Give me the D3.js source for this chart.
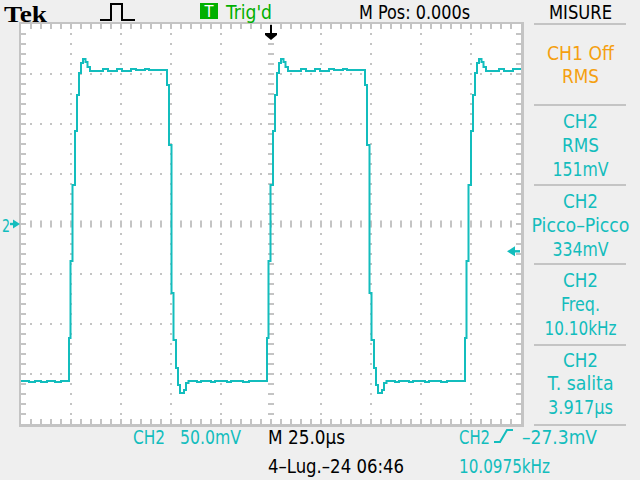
<!DOCTYPE html>
<html><head><meta charset="utf-8">
<script src="https://cdn.jsdelivr.net/npm/d3@7"></script>
<style>html,body{margin:0;padding:0;background:#efefef;}svg{display:block}</style>
</head><body><svg id="c" width="640" height="480"></svg>
<script>
// CH2 trace: time (µs, 0 = trigger) and voltage (mV)
const timeUS = [
  -125,-121,-118,-115,-112,-108,-105,-101,-100.25,-99.25,-98,-97,-96,-95,-94,-92.75,-91.75,-90.5,-84,-81.5,-77,-74.5,-70,-67.5,-63,-61,
  -52,-51,-49.75,-48.75,-47.5,-46.5,-45.5,-43.5,-42.5,-41.25,-37,-35,-30,-28,-22,-20,-14,-11,-6,
  -2,-1.25,-0.25,1,2,3,4,5,6.25,7.25,8.5,15,17.5,22,24.5,29,31.5,36,38,
  47,48,49.25,50.25,51.5,52.5,53.5,55.5,56.5,57.75,62,64,69,71,77,79,85,88,93,
  97,97.75,98.75,100,101,102,103,104,105.25,106.25,107.5,114,116.5,121,125
];
const ch2mV = [
  -157,-158,-157,-158,-157,-158,-157,-114,-37,39,93,129,151,161,165,162,157,153,155,153,155,153,155,154,155,154,
  139,79,-69,-116,-144,-161,-169,-166,-159,-157,-158,-157,-158,-157,-158,-157,-158,-157,-157,
  -114,-37,39,93,129,151,161,165,162,157,153,155,153,155,153,155,154,155,154,
  139,79,-69,-116,-144,-161,-169,-166,-159,-157,-158,-157,-158,-157,-158,-157,-158,-157,-157,
  -114,-37,39,93,129,151,161,165,162,157,153,155,153,155,155
];
// measurement panel
const measTitle = ["CH1 Off","CH2","CH2","CH2","CH2"];
const measName  = ["RMS","RMS","Picco–Picco","Freq.","T. salita"];
const measValue = ["","151mV","334mV","10.10kHz","3.917µs"];
// status texts
const headerTexts = ["Tek","Trig'd","M Pos: 0.000s","MISURE"];
const footerTexts = ["CH2","50.0mV","M 25.0µs","4–Lug.–24 06:46","CH2","–27.3mV","10.0975kHz"];
const trigLevelMV = -27.3;

const CY = "#13bdbd", OR = "#f5a010", GR = "#00b000", GRID = "#c4c4c4";
const FONT = "'Liberation Sans Narrow','DejaVu Sans Condensed','Arial Narrow',sans-serif";
const svg = d3.select("#c");
svg.append("rect").attr("width",640).attr("height",480).attr("fill","#efefef");

const x = d3.scaleLinear().domain([-125,125]).range([21,521]);
const y = d3.scaleLinear().domain([-200,200]).range([424,24]);

// graticule
svg.append("rect").attr("x",21).attr("y",24).attr("width",500).attr("height",400).attr("fill","#fff");
const g = svg.append("g").attr("fill",GRID);
const minorT = d3.range(-120,121,5), minorV = d3.range(-190,191,10);
[-100,-75,-50,-25,25,50,75,100].forEach(t=>minorV.forEach(v=>g.append("rect").attr("x",x(t)-1).attr("y",y(v)-1).attr("width",2).attr("height",2)));
[-150,-100,-50,50,100,150].forEach(v=>minorT.forEach(t=>g.append("rect").attr("x",x(t)-1).attr("y",y(v)-1).attr("width",2).attr("height",2)));
minorT.forEach(t=>{
  g.append("rect").attr("x",x(t)-1).attr("y",y(0)-3.5).attr("width",2).attr("height",7);
  g.append("rect").attr("x",x(t)-1).attr("y",24).attr("width",2).attr("height",5);
  g.append("rect").attr("x",x(t)-1).attr("y",419).attr("width",2).attr("height",5);
});
minorV.forEach(v=>{
  g.append("rect").attr("x",x(0)-3).attr("y",y(v)-1).attr("width",6).attr("height",2);
  g.append("rect").attr("x",21).attr("y",y(v)-1).attr("width",5).attr("height",2);
  g.append("rect").attr("x",516).attr("y",y(v)-1).attr("width",5).attr("height",2);
});
g.append("rect").attr("x",19).attr("y",22).attr("width",2).attr("height",405);
g.append("rect").attr("x",19).attr("y",22).attr("width",504).attr("height",2);
g.append("rect").attr("x",521).attr("y",22).attr("width",3).attr("height",405);
g.append("rect").attr("x",19).attr("y",424).attr("width",505).attr("height",3);

// trace
svg.append("clipPath").attr("id","cp").append("rect").attr("x",21).attr("y",24).attr("width",500).attr("height",400);
const pts = timeUS.map((t,i)=>[t,ch2mV[i]]);
svg.append("path").attr("clip-path","url(#cp)").attr("d",
  d3.line().x(d=>x(d[0])).y(d=>y(d[1])).curve(d3.curveStepAfter)(pts))
  .attr("fill","none").attr("stroke",CY).attr("stroke-width",2);

// markers
svg.append("path").attr("d","M265,33L277,33L277,35L271,40L265,35Z").attr("fill","#000");
svg.append("rect").attr("x",270).attr("y",25).attr("width",2).attr("height",9).attr("fill","#000");
const ty = y(trigLevelMV);
svg.append("path").attr("d",`M507,${ty}L515,${ty-5}L515,${ty+5}Z`).attr("fill",CY);
svg.append("rect").attr("x",514).attr("y",ty-1.2).attr("width",6).attr("height",2.4).attr("fill",CY);
const gy = y(0);
svg.append("path").attr("d",`M20,${gy}L13,${gy-4.5}L13,${gy+4.5}Z`).attr("fill",CY);
svg.append("rect").attr("x",10).attr("y",gy-1.2).attr("width",4).attr("height",2.4).attr("fill",CY);

function txt(s,xx,yy,len,color,anchor,size,fam,weight){
  const t = svg.append("text").attr("x",xx).attr("y",yy).text(s)
    .attr("fill",color).attr("font-family",fam||FONT).attr("font-size",size||19)
    .attr("text-anchor",anchor||"start");
  if(weight) t.attr("font-weight",weight);
  if(len) t.attr("textLength",len).attr("lengthAdjust","spacingAndGlyphs");
  return t;
}
txt("2",2,232,8,CY,"start",18);

// header
txt(headerTexts[0],4,21.5,43,"#000","start",24,"'Liberation Serif','DejaVu Serif',serif","bold");
svg.append("path").attr("d","M100,20H111V4H122V20H135").attr("fill","none").attr("stroke","#000").attr("stroke-width",2);
svg.append("rect").attr("x",200).attr("y",3).attr("width",18).attr("height",16).attr("fill",GR);
txt("T",209,17,9,"#fff","middle",16);
txt(headerTexts[1],226,18.5,46,GR);
txt(headerTexts[2],359,18.5,111,"#000");
txt(headerTexts[3],549,18.5,63,"#000");

// panel
const sep = svg.append("g").attr("fill","#c4c4c4");
[23,104,184,263,344,424].forEach(yy=>sep.append("rect").attr("x",534).attr("y",yy).attr("width",92).attr("height",2));
const cx = 580.5;
txt(measTitle[0],cx,60,67,OR,"middle");
txt(measName[0],cx,83,37,OR,"middle");
const blockY=[128,208,287,366.5];
const lens=[[35,37,56],[35,98,56],[35,39,72],[35,66,65]];
for(let i=1;i<5;i++){
  const b=blockY[i-1], L=lens[i-1];
  txt(measTitle[i],cx,b,L[0],CY,"middle");
  txt(measName[i],cx,b+23.5,L[1],CY,"middle");
  txt(measValue[i],cx,b+47.5,L[2],CY,"middle");
}

// footer
txt(footerTexts[0],133,444,32,CY);
txt(footerTexts[1],180,444,61,CY);
txt(footerTexts[2],268,444,77,"#000");
txt(footerTexts[3],268,473,136,"#000");
txt(footerTexts[4],459,444,31,CY);
svg.append("path").attr("d","M494,442H500L507,430H513").attr("fill","none").attr("stroke",CY).attr("stroke-width",2);
txt(footerTexts[5],522,444,75,CY);
txt(footerTexts[6],459,473,91,CY);
</script></body></html>
